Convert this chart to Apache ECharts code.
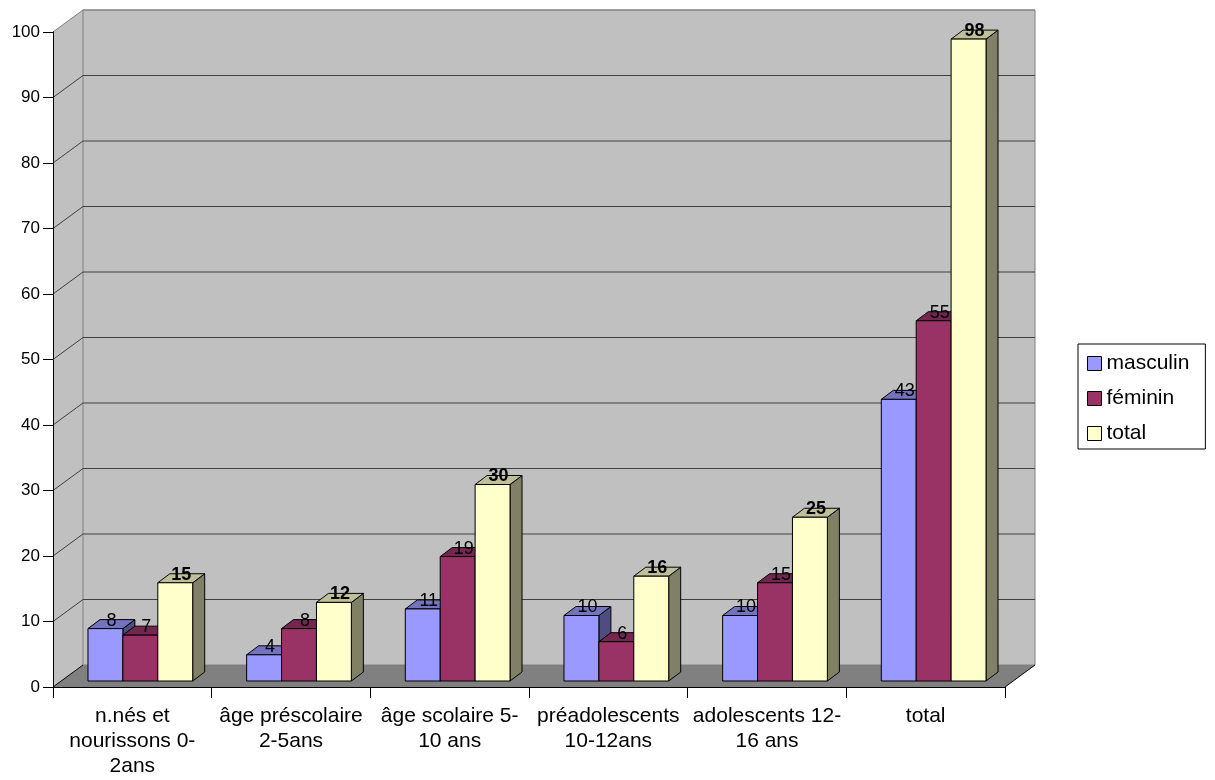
<!DOCTYPE html>
<html><head><meta charset="utf-8">
<script src="https://cdn.jsdelivr.net/npm/echarts@6/dist/echarts.min.js"></script>
<style>html,body{margin:0;padding:0;background:#fff}#c{width:1215px;height:780px}</style>
</head><body><div id="c"></div>
<script>
// ---- data ----
const categories = ['n.nés et\nnourissons 0-\n2ans', 'âge préscolaire\n2-5ans', 'âge scolaire 5-\n10 ans', 'préadolescents\n10-12ans', 'adolescents 12-\n16 ans', 'total'];
const masculin = [8, 4, 11, 10, 10, 43];
const feminin = [7, 8, 19, 6, 15, 55];
const total = [15, 12, 30, 16, 25, 98];
const seriesNames = ['masculin', 'féminin', 'total'];
const yTicks = [0, 10, 20, 30, 40, 50, 60, 70, 80, 90, 100];

// ---- style ----
const FONT = '"Liberation Sans", Arial, sans-serif';
const WDX = 30, WDY = -22;     // wall depth
const BDX = 8, BDY = -6;       // bar plane offset
const TDX = 12, TDY = -9;      // bar depth
const faces = [
  { front: '#9999FF', top: '#7373BF', side: '#4D4D80', bold: false },
  { front: '#993366', top: '#732650', side: '#4D1A33', bold: false },
  { front: '#FFFFCC', top: '#BFBF99', side: '#808066', bold: true }
];

function renderScene(params, api) {
  const cs = params.coordSys;
  const L = cs.x, R = cs.x + cs.width, T = cs.y, B = cs.y + cs.height;
  const ch = [];
  ch.push({ type: 'polygon', shape: { points: [[L, T], [L + WDX, T + WDY], [L + WDX, B + WDY], [L, B]] }, style: { fill: '#C0C0C0', stroke: null } });
  ch.push({ type: 'rect', shape: { x: L + WDX, y: T + WDY, width: R - L, height: B - T }, style: { fill: '#C0C0C0', stroke: '#808080', lineWidth: 1 } });
  ch.push({ type: 'polygon', shape: { points: [[L, B], [L + WDX, B + WDY], [R + WDX, B + WDY], [R, B]] }, style: { fill: '#808080', stroke: null } });
  ch.push({ type: 'line', shape: { x1: L, y1: B, x2: L + WDX, y2: B + WDY }, style: { stroke: '#000', lineWidth: 1 } });
  ch.push({ type: 'line', shape: { x1: R, y1: B, x2: R + WDX, y2: B + WDY }, style: { stroke: '#000', lineWidth: 1 } });
  yTicks.forEach(function (v) {
    if (v === 0) return;
    const y = api.coord([0, v])[1];
    ch.push({ type: 'polyline', shape: { points: [[L, y], [L + WDX, y + WDY], [R + WDX, y + WDY]] },
      style: { fill: null, stroke: v === 100 ? '#808080' : '#404040', lineWidth: 1 } });
  });
  return { type: 'group', children: ch, silent: true };
}

function makeBar(si) {
  const f = faces[si];
  return function (params, api) {
    const k = api.value(0), v = api.value(1);
    const c = api.coord([k, v]);
    const c0 = api.coord([k, 0]);
    const band = api.size([1, 0])[0];
    const w = band * 0.22;
    const x0 = c[0] + BDX - 1.5 * w + si * w;
    const yT = c[1] + BDY, yB = c0[1] + BDY;
    return {
      type: 'group',
      children: [
        { type: 'polygon', z2: si + 1, shape: { points: [[x0 + w, yT], [x0 + w + TDX, yT + TDY], [x0 + w + TDX, yB + TDY], [x0 + w, yB]] }, style: { fill: f.side, stroke: '#000', lineWidth: 1 } },
        { type: 'polygon', z2: si + 1, shape: { points: [[x0, yT], [x0 + w, yT], [x0 + w + TDX, yT + TDY], [x0 + TDX, yT + TDY]] }, style: { fill: f.top, stroke: '#000', lineWidth: 1 } },
        { type: 'rect', z2: si + 1, shape: { x: x0, y: yT, width: w, height: yB - yT }, style: { fill: f.front, stroke: '#000', lineWidth: 1 } },
        { type: 'text', z2: 50, x: x0 + w / 2 + 6, y: yT - 8,
          style: { text: String(v), fill: '#000', font: (f.bold ? 'bold ' : '') + '18px ' + FONT, align: 'center', verticalAlign: 'middle' } }
      ]
    };
  };
}

const valueArrays = [masculin, feminin, total];
const series = [{
  type: 'custom', name: '__scene', z: -1, silent: true,
  renderItem: renderScene, data: [[0, 0]], encode: { x: 0, y: 1 }, tooltip: { show: false }
}];
valueArrays.forEach(function (arr, si) {
  series.push({
    type: 'custom', name: seriesNames[si], z: 2,
    renderItem: makeBar(si),
    itemStyle: { color: faces[si].front, borderColor: '#000', borderWidth: 1 },
    data: arr.map(function (v, k) { return [k, v]; }),
    encode: { x: 0, y: 1 }
  });
});

const chart = echarts.init(document.getElementById('c'), null, { renderer: 'canvas' });
chart.setOption({
  animation: false,
  backgroundColor: '#fff',
  textStyle: { fontFamily: FONT },
  grid: { left: 53, right: 210, top: 32, bottom: 93, containLabel: false },
  legend: {
    orient: 'vertical', left: 1078, top: 344,
    padding: [9, 16, 5, 9], itemGap: 14, itemWidth: 14, itemHeight: 14,
    icon: 'rect', borderColor: '#000', borderWidth: 1, backgroundColor: '#fff',
    itemStyle: { borderColor: '#000', borderWidth: 1 },
    textStyle: { fontSize: 21, lineHeight: 20, color: '#000', fontFamily: FONT },
    data: seriesNames
  },
  xAxis: {
    type: 'category', data: categories,
    axisLine: { show: true, lineStyle: { color: '#000', width: 1 } },
    axisTick: { show: true, length: 11, lineStyle: { color: '#000' } },
    axisLabel: { interval: 0, fontSize: 21, lineHeight: 25, margin: 17, color: '#000', fontFamily: FONT },
    splitLine: { show: false }
  },
  yAxis: {
    type: 'value', min: 0, max: 100, interval: 10,
    axisLine: { show: true, lineStyle: { color: '#000', width: 1 } },
    axisTick: { show: true, length: 10, lineStyle: { color: '#000' } },
    axisLabel: { fontSize: 17, margin: 13, color: '#000', fontFamily: FONT },
    splitLine: { show: false }
  },
  series: series
});
</script>
</body></html>
